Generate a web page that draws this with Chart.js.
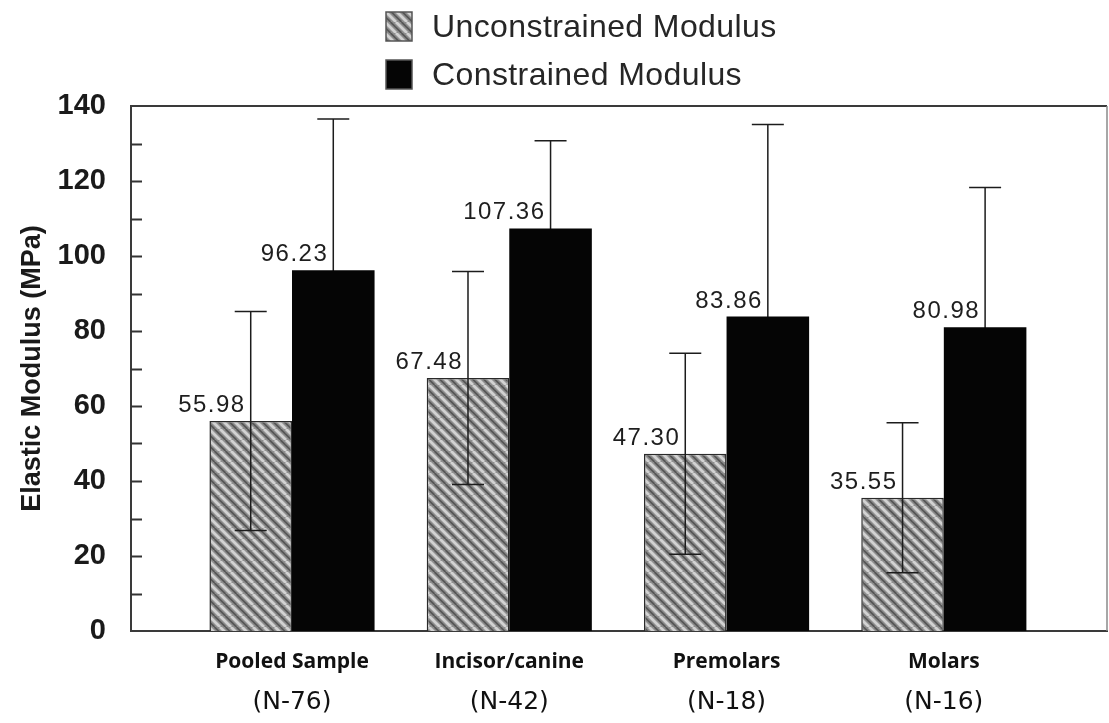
<!DOCTYPE html>
<html><head><meta charset="utf-8">
<script src="https://cdn.jsdelivr.net/npm/chart.js@4.4.1/dist/chart.umd.min.js"></script>
<style>html,body{margin:0;padding:0;background:#fff;overflow:hidden;}</style>
</head><body>
<canvas id="c" width="1109" height="723"></canvas>
<script>
// ---- data ----
const categories = ['Pooled Sample', 'Incisor/canine', 'Premolars', 'Molars'];
const sampleSizes = ['(N-76)', '(N-42)', '(N-18)', '(N-16)'];
const seriesNames = ['Unconstrained Modulus', 'Constrained Modulus'];
const unconstrained = [55.98, 67.48, 47.30, 35.55];
const constrained = [96.23, 107.36, 83.86, 80.98];
const unconstrainedSD = [29.2, 28.4, 26.8, 20.0];
const constrainedSD = [40.3, 23.4, 51.2, 37.3];
const yTickLabels = [0, 20, 40, 60, 80, 100, 120, 140];
const yTitle = 'Elastic Modulus (MPa)';

// ---- hatch pattern ----
const canvas = document.getElementById('c');
const mainCtx = canvas.getContext('2d');
function makeHatch() {
  const n = 11;
  const t = document.createElement('canvas');
  t.width = n; t.height = n;
  const g = t.getContext('2d');
  g.fillStyle = '#8e8e8e';
  g.fillRect(0, 0, n, n);
  const line = (dx, col, w) => {
    g.strokeStyle = col; g.lineWidth = w;
    for (const o of [-n, 0, n]) {
      g.beginPath(); g.moveTo(o + dx, 0); g.lineTo(o + dx + n, n); g.stroke();
    }
  };
  line(0, '#d2d2d2', 2.8);
  line(n / 2, '#575757', 1.8);
  return mainCtx.createPattern(t, 'repeat');
}
const hatch = makeHatch();

const idx = categories.map((_, i) => i);
const sdByDataset = [unconstrainedSD, constrainedSD];

function drawErrorBars(chart, di) {
  const ctx = chart.ctx;
  const y = chart.scales.y;
  const ds = chart.data.datasets[di];
  chart.getDatasetMeta(di).data.forEach((bar, i) => {
    const v = ds.data[i].y, sd = sdByDataset[di][i];
    const yt = y.getPixelForValue(v + sd), yb = y.getPixelForValue(v - sd);
    ctx.save();
    ctx.strokeStyle = '#1c1c1c';
    ctx.lineWidth = 1.5;
    ctx.beginPath();
    ctx.moveTo(bar.x, yt); ctx.lineTo(bar.x, yb);
    ctx.moveTo(bar.x - 16, yt); ctx.lineTo(bar.x + 16, yt);
    ctx.moveTo(bar.x - 16, yb); ctx.lineTo(bar.x + 16, yb);
    ctx.stroke();
    ctx.restore();
  });
}

const decor = {
  id: 'decor',
  beforeDatasetsDraw(chart) {
    drawErrorBars(chart, 1);
  },
  afterDatasetsDraw(chart) {
    drawErrorBars(chart, 0);
  },
  afterDraw(chart) {
    const ctx = chart.ctx;
    const a = chart.chartArea;
    const y = chart.scales.y;
    ctx.save();
    // top and right frame
    ctx.strokeStyle = '#3a3a3a';
    ctx.lineWidth = 2;
    ctx.beginPath();
    ctx.moveTo(a.left, a.top); ctx.lineTo(a.right, a.top);
    ctx.stroke();
    ctx.strokeStyle = '#8a8a8a';
    ctx.lineWidth = 1.5;
    ctx.beginPath();
    ctx.moveTo(a.right, a.top); ctx.lineTo(a.right, a.bottom);
    ctx.stroke();
    // inward y ticks
    ctx.strokeStyle = '#333333';
    ctx.lineWidth = 2;
    for (const t of y.ticks) {
      if (t.value <= y.min || t.value >= y.max) continue;
      const py = Math.round(y.getPixelForValue(t.value)) + 0.5;
      ctx.beginPath(); ctx.moveTo(a.left, py); ctx.lineTo(a.left + 11, py); ctx.stroke();
    }
    // value labels
    ctx.fillStyle = '#1e1e1e';
    ctx.font = '24px "Liberation Sans", Arial, sans-serif';
    if ('letterSpacing' in ctx) ctx.letterSpacing = '1.5px';
    ctx.textAlign = 'right';
    ctx.textBaseline = 'alphabetic';
    chart.data.datasets.forEach((ds, di) => {
      chart.getDatasetMeta(di).data.forEach((bar, i) => {
        ctx.fillText(ds.data[i].y.toFixed(2), bar.x - 5, bar.y - 9);
      });
    });
    if ('letterSpacing' in ctx) ctx.letterSpacing = '0px';
    // legend
    const rows = [37, 85];
    const boxTop = [12, 60];
    ctx.textAlign = 'left';
    ctx.font = '32px "Liberation Sans", Arial, sans-serif';
    if ('letterSpacing' in ctx) ctx.letterSpacing = '0.4px';
    chart.data.datasets.forEach((ds, di) => {
      ctx.fillStyle = ds.backgroundColor;
      ctx.fillRect(386, boxTop[di], 26, 29);
      ctx.strokeStyle = '#555';
      ctx.lineWidth = 1.5;
      ctx.strokeRect(386, boxTop[di], 26, 29);
      ctx.fillStyle = '#262626';
      ctx.fillText(ds.label, 432, rows[di]);
    });
    ctx.restore();
  }
};

const xMin = -0.741, xMax = 3.751;

new Chart(canvas, {
  type: 'bar',
  data: {
    datasets: [
      {
        label: seriesNames[0],
        data: idx.map(i => ({ x: i, y: unconstrained[i] })),
        backgroundColor: hatch,
        borderColor: '#2a2a2a',
        borderWidth: 1.5,
        xAxisID: 'x'
      },
      {
        label: seriesNames[1],
        data: idx.map(i => ({ x: i, y: constrained[i] })),
        backgroundColor: '#050505',
        borderColor: '#050505',
        borderWidth: 0,
        xAxisID: 'x'
      }
    ]
  },
  options: {
    responsive: false,
    animation: false,
    devicePixelRatio: 1,
    categoryPercentage: 0.76,
    barPercentage: 1.0,
    layout: { padding: { top: 106, right: 2, left: 0, bottom: 0 } },
    plugins: { legend: { display: false }, tooltip: { enabled: false } },
    scales: {
      x: {
        type: 'linear',
        position: 'bottom',
        min: xMin, max: xMax,
        offset: false,
        grid: { display: false, offset: false, drawTicks: false },
        border: { display: true, color: '#3a3a3a', width: 2 },
        ticks: {
          stepSize: 1,
          includeBounds: false,
          autoSkip: false,
          maxRotation: 0,
          padding: 18,
          color: '#111',
          font: { family: '"Open Sans", sans-serif', size: 21, weight: 'bold' },
          callback: v => (Number.isInteger(v) && categories[v] !== undefined) ? categories[v] : ''
        },
        afterFit: s => { s.height = 55; }
      },
      xn: {
        type: 'linear',
        position: 'bottom',
        min: xMin, max: xMax,
        offset: false,
        grid: { display: false, offset: false, drawTicks: false },
        border: { display: false },
        ticks: {
          stepSize: 1,
          includeBounds: false,
          autoSkip: false,
          maxRotation: 0,
          padding: 1,
          color: '#111',
          font: { family: '"DejaVu Sans", sans-serif', size: 25 },
          callback: v => (Number.isInteger(v) && sampleSizes[v] !== undefined) ? sampleSizes[v] : ''
        },
        afterFit: s => { s.height = 37; }
      },
      y: {
        min: 0, max: 140,
        grid: { display: false, drawTicks: false },
        border: { display: true, color: '#3a3a3a', width: 2 },
        ticks: {
          stepSize: 10,
          autoSkip: false,
          padding: 25,
          color: '#1a1a1a',
          font: { family: '"Liberation Sans", Arial, sans-serif', size: 29, weight: 'bold' },
          callback: v => yTickLabels.includes(v) ? String(v) : ''
        },
        title: {
          display: true,
          text: yTitle,
          color: '#1a1a1a',
          padding: { top: 16, bottom: 0 },
          font: { family: '"Liberation Sans", Arial, sans-serif', size: 27, weight: 'bold' }
        },
        afterFit: s => { s.width = 131; }
      }
    }
  },
  plugins: [decor]
});
</script>
</body></html>
